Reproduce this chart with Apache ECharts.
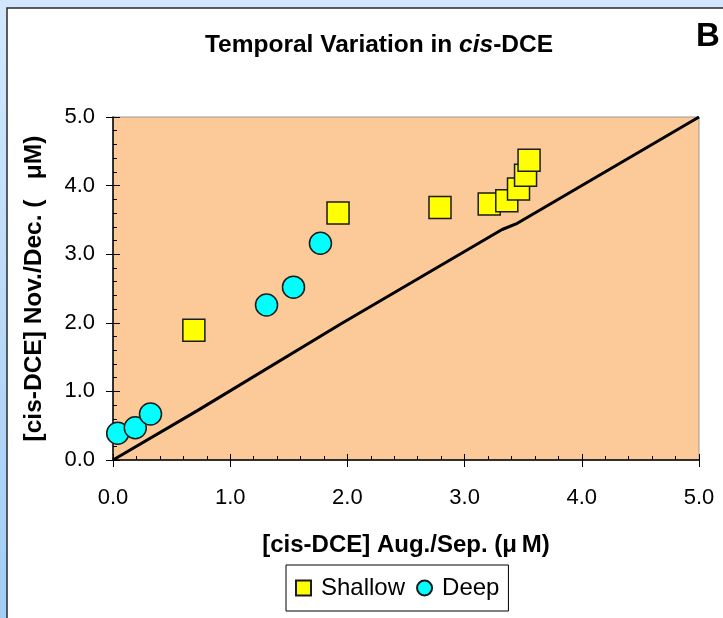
<!DOCTYPE html>
<html>
<head>
<meta charset="utf-8">
<script src="https://cdn.jsdelivr.net/npm/echarts@6/dist/echarts.min.js"></script>
<style>
html,body{margin:0;padding:0;background:#fff;}
#chart{width:723px;height:618px;}
</style>
</head>
<body>
<div id="chart"></div>
<script>
// Data
const shallowX = [0.69, 1.92, 2.79, 3.21, 3.36, 3.46, 3.52, 3.55];
const shallowY = [1.89, 3.60, 3.68, 3.73, 3.78, 3.95, 4.15, 4.37];
const deepX = [0.04, 0.19, 0.32, 1.31, 1.54, 1.77];
const deepY = [0.39, 0.47, 0.67, 2.26, 2.52, 3.16];
// 1:1 reference line as drawn (slightly hand-drawn)
const lineX = [0, 0.72, 1.95, 3.32, 3.45, 5];
const lineY = [0, 0.72, 1.99, 3.36, 3.45, 5];
const tickLabels = ['0.0', '1.0', '2.0', '3.0', '4.0', '5.0'];

const FONT = "'Liberation Sans', Arial, sans-serif";
const zip = (a, b) => a.map((v, i) => [v, b[i]]);
const fmt = v => tickLabels[Math.round(v)] !== undefined && Math.abs(v - Math.round(v)) < 1e-9 ? tickLabels[Math.round(v)] : '';

const chart = echarts.init(document.getElementById('chart'), null, {renderer: 'canvas'});

const baseAxis = {
  min: 0, max: 5, type: 'value', splitLine: {show: false}
};

chart.setOption({
  backgroundColor: '#ffffff',
  animation: false,
  graphic: [
    {type: 'rect', z: -10, shape: {x: 0, y: 0, width: 723, height: 618},
      style: {fill: new echarts.graphic.LinearGradient(0, 0, 0, 1, [
        {offset: 0, color: '#d3e8fd'}, {offset: 1, color: '#a2cdf5'}])}},
    {type: 'rect', z: -10, shape: {x: 0, y: 0, width: 723, height: 8}, style: {fill: '#d1e6fc'}},
    {type: 'rect', z: -9, shape: {x: 7, y: 8, width: 720, height: 615},
      style: {fill: '#ffffff', stroke: '#2a2a2a', lineWidth: 1.5}},
    {type: 'text', z: 10, left: 696, top: 20,
      style: {text: 'B', font: "bold 33px 'Liberation Sans', Arial, sans-serif", fill: '#000'}}
  ],
  title: {
    text: '{b|Temporal Variation in }{i|cis}{b|-DCE}',
    left: 374, top: 28, textAlign: 'center',
    textStyle: {
      rich: {
        b: {fontFamily: FONT, fontWeight: 'bold', fontSize: 24.5, color: '#000'},
        i: {fontFamily: FONT, fontWeight: 'bold', fontStyle: 'italic', fontSize: 24.5, color: '#000'}
      }
    }
  },
  legend: {
    data: ['Shallow', 'Deep'],
    left: 286, top: 565,
    orient: 'horizontal',
    backgroundColor: '#fff',
    borderColor: '#000', borderWidth: 1,
    padding: [11, 9, 11, 9],
    itemWidth: 15, itemHeight: 15, itemGap: 11,
    textStyle: {fontFamily: FONT, fontSize: 24, color: '#000', padding: [0, 0, 0, 5]}
  },
  grid: {
    left: 113, right: 24, top: 117, bottom: 158,
    show: true, backgroundColor: '#fcca98', borderColor: '#9a9a9a', borderWidth: 1
  },
  xAxis: [
    Object.assign({}, baseAxis, {
      interval: 1,
      name: '[cis-DCE] Aug./Sep. (μ\u2009M)',
      nameLocation: 'middle', nameGap: 73,
      nameTextStyle: {fontFamily: FONT, fontWeight: 'bold', fontSize: 24, color: '#000'},
      axisLine: {show: true, onZero: false, lineStyle: {color: '#000', width: 1.5}},
      axisTick: {show: true, inside: false, length: 7, lineStyle: {color: '#000', width: 1}},
      axisLabel: {show: true, margin: 27, fontFamily: FONT, fontSize: 22, color: '#000', formatter: fmt}
    }),
    Object.assign({}, baseAxis, {
      interval: 1, position: 'bottom',
      axisLine: {show: false}, axisLabel: {show: false},
      axisTick: {show: true, inside: true, length: 6, lineStyle: {color: '#000', width: 1}}
    }),
    Object.assign({}, baseAxis, {
      interval: 0.2, position: 'bottom',
      axisLine: {show: false}, axisLabel: {show: false},
      axisTick: {show: true, inside: true, length: 4, lineStyle: {color: '#000', width: 1}}
    })
  ],
  yAxis: [
    Object.assign({}, baseAxis, {
      interval: 1,
      name: '[cis-DCE] Nov./Dec. (   μM)',
      nameLocation: 'middle', nameGap: 66, nameRotate: 90,
      nameTextStyle: {fontFamily: FONT, fontWeight: 'bold', fontSize: 24.5, color: '#000'},
      axisLine: {show: true, onZero: false, lineStyle: {color: '#000', width: 1.5}},
      axisTick: {show: true, inside: false, length: 7, lineStyle: {color: '#000', width: 1}},
      axisLabel: {show: true, margin: 18, fontFamily: FONT, fontSize: 22, color: '#000', formatter: fmt}
    }),
    Object.assign({}, baseAxis, {
      interval: 1, position: 'left',
      axisLine: {show: false}, axisLabel: {show: false},
      axisTick: {show: true, inside: true, length: 7, lineStyle: {color: '#000', width: 1}}
    }),
    Object.assign({}, baseAxis, {
      interval: 0.2, position: 'left',
      axisLine: {show: false}, axisLabel: {show: false},
      axisTick: {show: true, inside: true, length: 4, lineStyle: {color: '#000', width: 1}}
    })
  ],
  series: [
    {
      name: '1:1', type: 'line', data: zip(lineX, lineY),
      xAxisIndex: 0, yAxisIndex: 0,
      symbol: 'none', lineStyle: {color: '#000', width: 3}, z: 2, silent: true
    },
    {
      name: 'Shallow', type: 'scatter', data: zip(shallowX, shallowY),
      xAxisIndex: 0, yAxisIndex: 0,
      symbol: 'rect', symbolSize: 22,
      itemStyle: {color: '#ffff00', borderColor: '#1a1a1a', borderWidth: 1.5, opacity: 1}, z: 3
    },
    {
      name: 'Deep', type: 'scatter', data: zip(deepX, deepY),
      xAxisIndex: 0, yAxisIndex: 0,
      symbol: 'circle', symbolSize: 22,
      itemStyle: {color: '#00ffff', borderColor: '#1a1a1a', borderWidth: 1.5, opacity: 1}, z: 3
    }
  ]
});
</script>
</body>
</html>
